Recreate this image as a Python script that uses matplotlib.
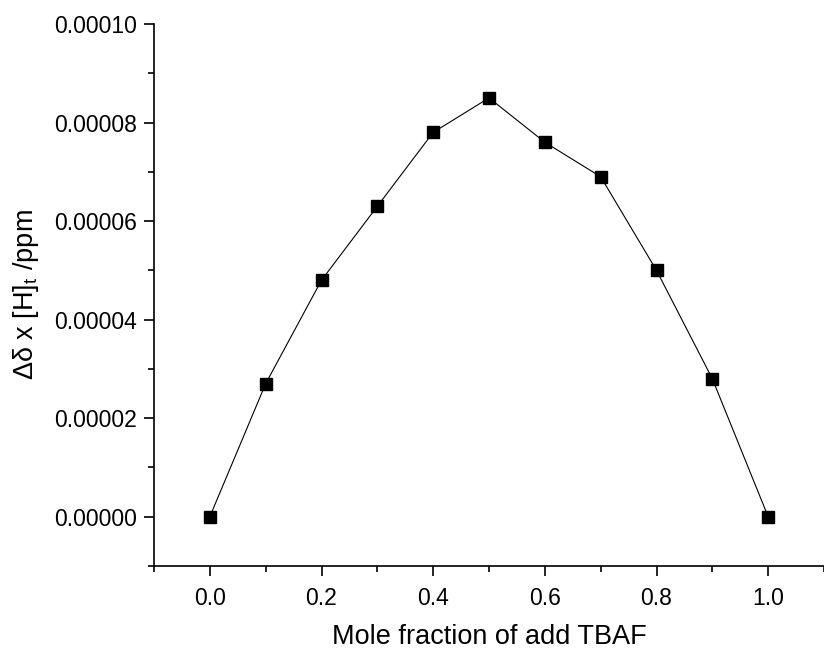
import matplotlib
matplotlib.use("Agg")
import matplotlib.pyplot as plt
from matplotlib.ticker import MultipleLocator, FormatStrFormatter

plt.rcParams['font.family'] = ['Liberation Sans', 'DejaVu Sans']
plt.rcParams['mathtext.default'] = 'regular'

# mole fraction vs. job plot values
mole_fraction = [0.0, 0.1, 0.2, 0.3, 0.4, 0.5, 0.6, 0.7, 0.8, 0.9, 1.0]
dd_times_h = [0.0, 0.000027, 0.000048, 0.000063, 0.000078, 0.000085,
              0.000076, 0.000069, 0.000050, 0.000028, 0.0]

fig = plt.figure(figsize=(8.24, 6.51), dpi=100)
ax = fig.add_axes([154 / 824, 1 - 566 / 651, 1 - 154 / 824, (566 - 24) / 651])

ax.plot(mole_fraction, dd_times_h, color='black', lw=0.8,
        marker='s', markersize=8, markerfacecolor='black', markeredgecolor='black')

ax.set_xlim(-0.1, 1.1)
ax.set_ylim(-0.00001, 0.0001)

ax.xaxis.set_major_locator(MultipleLocator(0.2))
ax.xaxis.set_minor_locator(MultipleLocator(0.1))
ax.yaxis.set_major_locator(MultipleLocator(0.00002))
ax.yaxis.set_minor_locator(MultipleLocator(0.00001))
ax.xaxis.set_major_formatter(FormatStrFormatter('%.1f'))
ax.yaxis.set_major_formatter(FormatStrFormatter('%.5f'))

for s in ['top', 'right']:
    ax.spines[s].set_visible(False)
for s in ['left', 'bottom']:
    ax.spines[s].set_linewidth(1.2)

ax.tick_params(which='major', direction='out', length=7, width=1.2, labelsize=16.5)
ax.tick_params(axis='x', which='major', pad=8)
ax.tick_params(axis='y', which='major', pad=5)
ax.tick_params(which='minor', direction='out', length=4, width=1.2)

ax.set_xlabel('Mole fraction of add TBAF', fontsize=19.5, labelpad=10)
ax.set_ylabel(r'Δδ x [H]$_t$ /ppm', fontsize=19.5, labelpad=10)

fig.savefig('out.png', dpi=100)
